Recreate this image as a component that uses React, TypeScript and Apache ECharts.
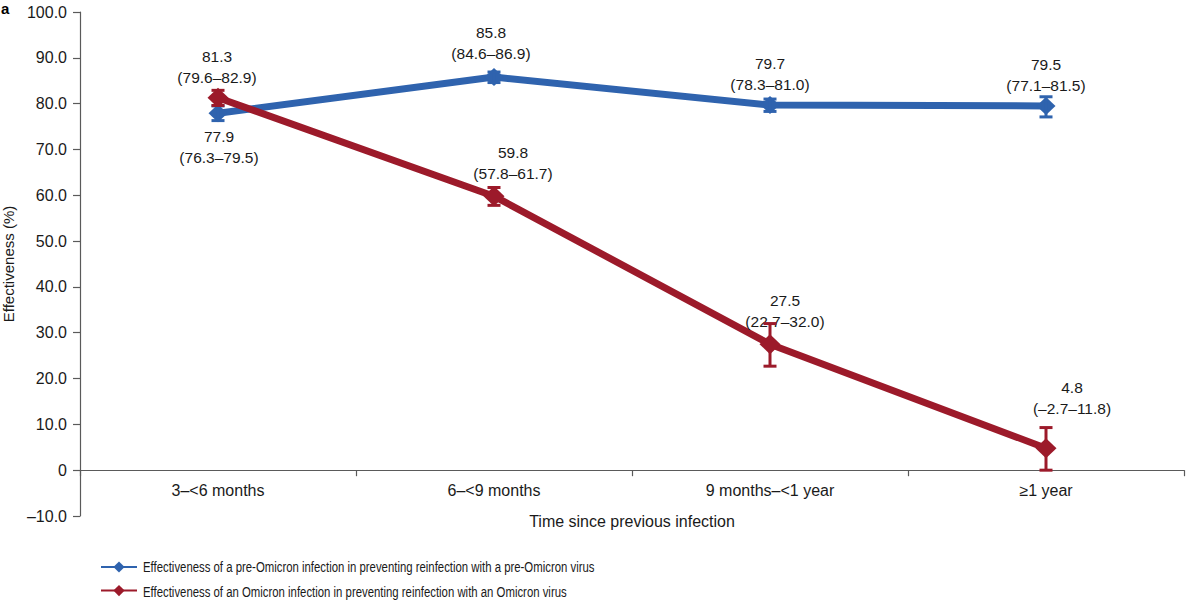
import React, { useEffect, useRef } from "react";
import * as echarts from "echarts";

const categories = ["3–<6 months", "6–<9 months", "9 months–<1 year", "≥1 year"];
const yTicks = [-10, 0, 10, 20, 30, 40, 50, 60, 70, 80, 90, 100];

const preName = "Effectiveness of a pre-Omicron infection in preventing reinfection with a pre-Omicron virus";
const preValues = [77.9, 85.8, 79.7, 79.5];
const preLow = [76.3, 84.6, 78.3, 77.1];
const preHigh = [79.5, 86.9, 81.0, 81.5];

const omName = "Effectiveness of an Omicron infection in preventing reinfection with an Omicron virus";
const omValues = [81.3, 59.8, 27.5, 4.8];
const omLow = [79.6, 57.8, 22.7, -2.7];
const omHigh = [82.9, 61.7, 32.0, 11.8];
// error bar extents as drawn in the figure
const omBarLow = [79.6, 57.8, 22.7, 0.0];
const omBarHigh = [82.9, 61.7, 32.0, 9.3];

const seriesNames = [preName, omName];

const BLUE = "#2f63ae";
const RED = "#9c1a2a";
const FONT = "Liberation Sans, Arial, Helvetica, sans-serif";
const TXT = "#1a1a1a";
const AXIS = "#5a5a5a";

const fmt = (v: number) => (v < 0 ? "–" + Math.abs(v).toFixed(1) : v.toFixed(1));

function makeLabels(vals: number[], lo: number[], hi: number[]) {
  return vals.map((v, i) => `${v.toFixed(1)}\n(${fmt(lo[i])}–${fmt(hi[i])})`);
}

// per-point label placement (layout only)
const preLabelPos = [
  { position: "bottom", distance: 4, offset: [1, 0] },
  { position: "top", distance: 4, offset: [-3, 0] },
  { position: "top", distance: 1, offset: [0, 0] },
  { position: "top", distance: 1, offset: [0, 0] },
];
const omLabelPos = [
  { position: "top", distance: 0, offset: [-1, 0] },
  { position: "top", distance: 2, offset: [19, 0] },
  { position: "top", distance: 2, offset: [15, 0] },
  { position: "top", distance: 19, offset: [26, 0] },
];

export default function App() {
  const ref = useRef<HTMLDivElement>(null);
  useEffect(() => {
    if (!ref.current) return;
    const chart = echarts.init(ref.current, undefined, { renderer: "svg" });
    const preLabels = makeLabels(preValues, preLow, preHigh);
    const omLabels = makeLabels(omValues, omLow, omHigh);

    const labelBase = {
      show: true,
      fontFamily: FONT,
      fontSize: 15.5,
      lineHeight: 21,
      color: TXT,
      align: "center",
    };

    const errRender = (color: string) => (params: any, api: any) => {
      const x = api.value(0);
      const lo = api.coord([x, api.value(1)]);
      const hi = api.coord([x, api.value(2)]);
      const cw = 6.5;
      const style = { stroke: color, lineWidth: 3 };
      return {
        type: "group",
        children: [
          { type: "line", shape: { x1: lo[0], y1: lo[1], x2: hi[0], y2: hi[1] }, style },
          { type: "line", shape: { x1: lo[0] - cw, y1: lo[1], x2: lo[0] + cw, y2: lo[1] }, style },
          { type: "line", shape: { x1: hi[0] - cw, y1: hi[1], x2: hi[0] + cw, y2: hi[1] }, style },
        ],
      };
    };

    const gridTop = 12;
    const gridBottomPx = 516;
    const yMin = -10;
    const yMax = 100;
    const zeroOffset = -((0 - yMin) / (yMax - yMin)) * (gridBottomPx - gridTop);

    const legendTop = 555;
    const legendRow = 25;
    const legendTexts = seriesNames.map((name, i) => ({
      type: "text",
      x: 143,
      y: legendTop + 5 + 7 + i * legendRow,
      scaleX: 0.785,
      style: {
        text: name,
        fontFamily: FONT,
        fontSize: 14.5,
        fill: TXT,
        textVerticalAlign: "middle",
        verticalAlign: "middle",
      },
    }));

    const option: any = {
      animation: false,
      backgroundColor: "#ffffff",
      grid: {
        left: 80,
        right: 16,
        top: gridTop,
        bottom: 612 - gridBottomPx,
        containLabel: false,
        outerBoundsMode: "none",
      },
      legend: {
        orient: "vertical",
        left: 95,
        top: legendTop,
        itemGap: legendRow - 14,
        itemWidth: 36,
        itemHeight: 14,
        lineStyle: { width: 2 },
        formatter: () => "",
        textStyle: { fontFamily: FONT, fontSize: 14.5, color: TXT },
        data: seriesNames,
      },
      xAxis: {
        type: "category",
        data: categories,
        boundaryGap: true,
        offset: zeroOffset,
        axisLine: { onZero: false, lineStyle: { color: AXIS, width: 1.2 } },
        axisTick: { show: true, length: 6, inside: false, lineStyle: { color: AXIS, width: 1.2 } },
        axisLabel: { fontFamily: FONT, fontSize: 16, color: TXT, margin: 12 },
        name: "Time since previous infection",
        nameLocation: "middle",
        nameGap: 43,
        nameTextStyle: { fontFamily: FONT, fontSize: 16, color: TXT },
      },
      yAxis: {
        type: "value",
        min: yMin,
        max: yMax,
        interval: 10,
        splitLine: { show: false },
        axisLine: { show: true, lineStyle: { color: AXIS, width: 1.2 } },
        axisTick: { show: true, length: 7, lineStyle: { color: AXIS, width: 1.2 } },
        axisLabel: {
          fontFamily: FONT,
          fontSize: 16,
          color: TXT,
          margin: 13,
          formatter: (v: number) => (yTicks.includes(v) ? (v === 0 ? "0" : fmt(v)) : ""),
        },
        name: "Effectiveness (%)",
        nameLocation: "middle",
        nameGap: 63,
        nameRotate: 90,
        nameTextStyle: { fontFamily: FONT, fontSize: 15, color: TXT },
      },
      series: [
        {
          name: preName,
          type: "line",
          z: 3,
          data: preValues.map((v, i) => ({
            value: v,
            label: {
              ...labelBase,
              ...preLabelPos[i],
              formatter: preLabels[i],
            },
          })),
          symbol: "diamond",
          symbolSize: [19, 18],
          lineStyle: { color: BLUE, width: 7 },
          itemStyle: { color: BLUE },
        },
        {
          name: omName,
          type: "line",
          z: 4,
          data: omValues.map((v, i) => ({
            value: v,
            label: {
              ...labelBase,
              ...omLabelPos[i],
              formatter: omLabels[i],
            },
          })),
          symbol: "diamond",
          symbolSize: [21, 20],
          lineStyle: { color: RED, width: 7 },
          itemStyle: { color: RED },
        },
        {
          type: "custom",
          name: "preErr",
          z: 5,
          renderItem: errRender(BLUE),
          encode: { x: 0, y: [1, 2] },
          data: preValues.map((_, i) => [i, preLow[i], preHigh[i]]),
          silent: true,
        },
        {
          type: "custom",
          name: "omErr",
          z: 6,
          renderItem: errRender(RED),
          encode: { x: 0, y: [1, 2] },
          data: omValues.map((_, i) => [i, omBarLow[i], omBarHigh[i]]),
          silent: true,
        },
      ],
      graphic: [
        {
          type: "text",
          left: 1,
          top: 1,
          style: { text: "a", fontFamily: FONT, fontSize: 15, fontWeight: "bold", fill: "#000" },
        },
        ...legendTexts,
      ],
    };
    chart.setOption(option);
    return () => chart.dispose();
  }, []);
  return (
    <div
      ref={ref}
      style={{ position: "absolute", left: 0, top: 0, width: 1200, height: 612 }}
    />
  );
}
